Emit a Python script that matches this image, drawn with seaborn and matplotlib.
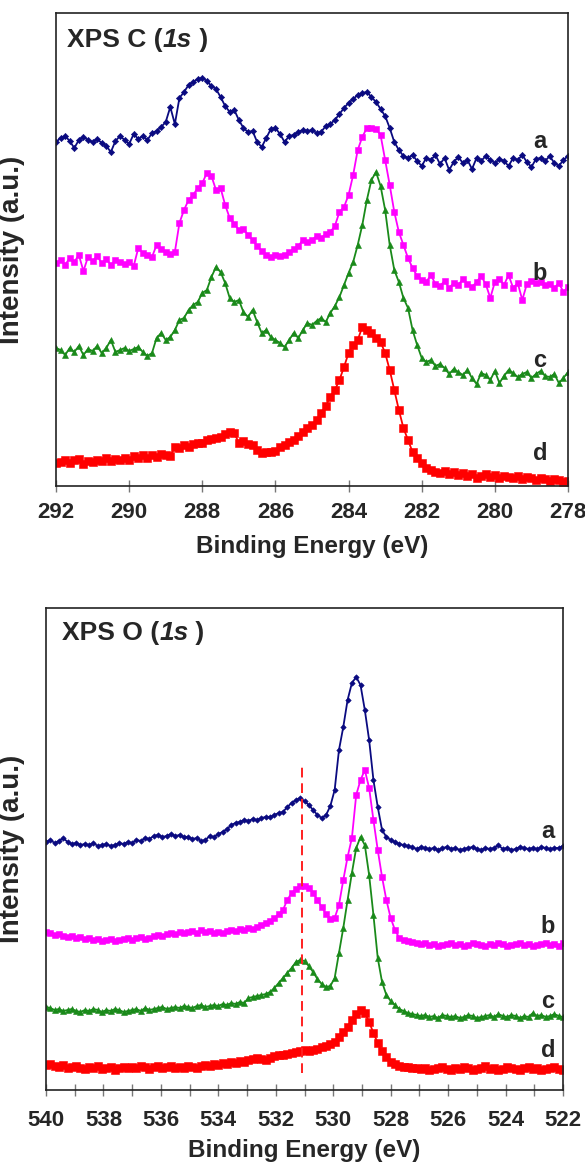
import numpy as np
import matplotlib
matplotlib.use("Agg")
import matplotlib.pyplot as plt
import matplotlib.transforms as mtransforms
from matplotlib.ticker import MultipleLocator
import seaborn as sns

# ---------------- data: C 1s (intensity, arbitrary units) ----------------
energy_c = np.linspace(292.0, 278.0, 113)   # binding energy grid, eV

c_a = [344, 348, 350, 345, 338, 346, 349, 346, 344, 347,
       343, 340, 334, 345, 350, 346, 342, 352, 347, 350,
       346, 353, 355, 359, 364, 379, 362, 388, 394, 401,
       404, 407, 408, 405, 400, 397, 389, 380, 374, 376,
       366, 358, 354, 355, 344, 339, 348, 357, 358, 352,
       344, 350, 351, 354, 356, 355, 356, 353, 354, 360,
       362, 366, 372, 378, 383, 387, 391, 393, 394, 389,
       384, 377, 370, 358, 344, 336, 330, 328, 331, 325,
       320,
       328, 326, 331, 322, 328, 316, 324, 329, 323, 326,
       317, 328, 325, 330, 326, 323, 327, 325, 320, 328,
       326, 331, 324, 319, 327, 328, 325, 330, 323, 320,
       326, 330]

c_b = [223, 226, 221, 228, 224, 231, 215, 229, 225, 230,
       223, 227, 221, 226, 224, 222, 224, 220, 238, 233,
       231, 229, 241, 237, 234, 232, 234, 263, 276, 286,
       291, 298, 303, 313, 310, 296, 298, 281, 268, 262,
       256, 257, 251, 246, 240, 235, 231, 229, 231, 230,
       231, 234, 237, 240, 246, 244, 246, 250, 248, 252,
       254, 260, 274, 279, 291, 311, 336, 349, 358, 358,
       357, 351, 326, 301, 274, 254, 241, 228, 218, 210,
       206,
       204, 211, 202, 200, 205, 198, 203, 201, 207, 202,
       199, 204, 210, 202, 188, 204, 207, 201, 211, 198,
       203, 186, 202, 205, 203, 204, 201, 202, 198, 203,
       194, 199]

c_c = [138, 136, 131, 138, 134, 140, 131, 137, 135, 140,
       133, 138, 146, 134, 136, 138, 135, 137, 139, 134,
       130, 133, 148, 153, 146, 149, 156, 166, 168, 176,
       181, 184, 193, 196, 209, 219, 214, 203, 188, 184,
       186, 174, 169, 176, 164, 153, 156, 149, 146, 143,
       139, 146, 153, 148, 156, 163, 161, 165, 168, 164,
       173, 180, 189, 201, 213, 224, 241, 261, 286, 306,
       314, 300, 276, 241, 216, 204, 188, 178, 156, 141,
       128,
       124, 126, 120, 122, 118, 112, 117, 114, 111, 116,
       108, 102, 113, 111, 106, 115, 103, 110, 116, 113,
       109, 112, 114, 108, 112, 115, 110, 109, 112, 103,
       108, 114]

c_d = [23, 24, 26, 23, 26, 27, 22, 25, 24, 26,
       25, 28, 25, 27, 26, 28, 26, 30, 28, 31,
       28, 31, 29, 32, 31, 30, 39, 38, 41, 39,
       42, 43, 43, 46, 47, 48, 49, 52, 54, 53,
       43, 45, 42, 41, 36, 33, 34, 34, 35, 39,
       41, 44, 46, 50, 54, 58, 61, 66, 73, 80,
       89, 96, 106, 119, 133, 141, 146, 159, 156, 153,
       148, 144, 133, 116, 96, 76, 58, 46, 34, 28,
       23,
       18, 16, 14, 13, 15, 12, 14, 11, 13, 10,
       12, 8, 10, 12, 9, 11, 8, 10, 9, 8,
       10, 7, 9, 8, 6, 8, 7, 5, 7, 6,
       4, 5]

# ---------------- data: O 1s (intensity, arbitrary units) ----------------
energy_o = np.linspace(540.0, 522.0, 121)

o_a = [248, 250, 247, 249, 252, 248, 246, 247, 245, 246,
       245, 247, 244, 245, 246, 244, 245, 247, 246, 248,
       247, 250, 249, 252, 251, 254, 255, 253, 254, 256,
       254, 255, 253, 253, 251, 252, 249, 250, 254, 253,
       256, 258, 261, 265, 267, 268, 270, 269, 271, 270,
       272, 273, 273, 275, 277, 278, 283, 287, 290, 292,
       289, 285, 280, 275, 272, 275, 284, 300, 340, 363,
       390, 407, 413, 405, 380, 350, 310, 283, 260, 253,
       250, 248, 246, 245, 244, 243, 241,
       243, 242, 241, 242, 240, 242, 243, 241, 242, 240,
       241, 242, 243, 241, 240, 242, 241, 242, 245, 241,
       242, 240, 241, 243, 242, 241, 242, 241, 243, 242,
       241, 242, 242, 244]

o_b = [158, 157, 155, 156, 154, 153, 154, 152, 153, 151,
       152, 150, 151, 149, 150, 151, 149, 150, 151, 152,
       150, 152, 153, 151, 152, 154, 155, 154, 156, 157,
       156, 158, 157, 158, 159, 157, 160, 158, 159, 157,
       158, 157, 159, 160, 159, 161, 160, 162, 161, 163,
       165, 167, 169, 172, 176, 180, 190, 197, 201, 204,
       204, 202, 197, 190, 183, 176, 171, 172, 185, 210,
       233, 252, 295, 310, 320, 302, 270, 240, 213, 190,
       172, 160, 152, 150, 149, 148, 147,
       146, 147, 145, 146, 144, 145, 146, 147, 145, 146,
       144, 145, 147, 146, 145, 144, 146, 145, 147, 146,
       144, 145, 146, 147, 145, 146, 144, 145, 146, 147,
       145, 146, 144, 147]

o_c = [83, 82, 80, 81, 79, 80, 81, 79, 78, 80,
       79, 81, 80, 78, 80, 79, 81, 80, 78, 79,
       80, 81, 79, 82, 80, 81, 82, 83, 81, 82,
       83, 82, 84, 83, 82, 84, 85, 83, 84, 85,
       84, 86, 85, 87, 86, 88, 87, 92, 93, 94,
       95, 96, 98, 102, 107, 112, 117, 122, 128, 130,
       129, 124, 118, 111, 106, 103, 104, 112, 137, 162,
       190, 217, 242, 253, 245, 215, 175, 132, 108, 95,
       89, 85, 81, 79, 77, 76, 75,
       74, 75, 73, 74, 72, 75, 74, 73, 74, 72,
       73, 75, 74, 72, 73, 74, 75, 73, 76, 74,
       73, 75, 74, 72, 74, 73, 77, 74, 75, 73,
       74, 76, 74, 73]

o_d = [25, 26, 24, 23, 25, 22, 23, 24, 22, 21,
       23, 22, 24, 21, 22, 23, 20, 22, 23, 22,
       23, 22, 24, 23, 21, 23, 24, 22, 23, 24,
       22, 23, 22, 24, 23, 22, 24, 25, 24, 26,
       25, 27, 26, 28, 27, 29, 28, 30, 31, 32,
       31, 30, 32, 34, 35, 35, 36, 37, 38, 39,
       40, 39, 40, 41, 43, 44, 46, 48, 53, 58,
       63, 70, 76, 80, 77, 68, 57, 47, 39, 33,
       28, 26, 24, 23, 23, 22, 22,
       21, 22, 20, 21, 22, 23, 21, 20, 22, 21,
       23, 22, 20, 21, 22, 24, 21, 22, 20, 21,
       23, 22, 21, 20, 22, 23, 21, 22, 20, 21,
       22, 23, 21, 20]

series_names = ["a", "b", "c", "d"]
c_xticks = [292, 290, 288, 286, 284, 282, 280, 278]
o_xticks = [540, 538, 536, 534, 532, 530, 528, 526, 524, 522]
o_dashed_energy = 531.1
o_dashed_range = (17, 325)

for arr in (c_a, c_b, c_c, c_d):
    assert len(arr) == len(energy_c), len(arr)
for arr in (o_a, o_b, o_c, o_d):
    assert len(arr) == len(energy_o), len(arr)

# ---------------- styling ----------------
sns.set_theme(style="white")
plt.rcParams["font.family"] = ["Liberation Sans", "DejaVu Sans"]
plt.rcParams["font.weight"] = "bold"

colors = ["#0a0a80", "#ff00ff", "#1a8a1a", "#ff0000"]
markers = ["D", "s", "^", "s"]
ms_top = [3.2, 4.6, 4.6, 5.4]
ms_bot = [2.8, 4.4, 4.0, 5.2]

fig = plt.figure(figsize=(5.85, 11.63), dpi=100)
W, H = 585.0, 1163.0
ax1 = fig.add_axes([56 / W, 1 - 486 / H, 512 / W, 473 / H])
ax2 = fig.add_axes([46 / W, 1 - 1090 / H, 517 / W, 482 / H])


def draw(ax, energy, series, ms):
    for vals, col, mk, m in zip(series, colors, markers, ms):
        sns.lineplot(x=energy, y=vals, ax=ax, color=col, marker=mk,
                     markersize=m, markeredgecolor=col, markeredgewidth=0.4,
                     linewidth=1.3, sort=False, errorbar=None)


draw(ax1, energy_c, [c_a, c_b, c_c, c_d], ms_top)
draw(ax2, energy_o, [o_a, o_b, o_c, o_d], ms_bot)

ax2.plot([o_dashed_energy, o_dashed_energy], list(o_dashed_range),
         color="#ff2020", lw=1.4, ls=(0, (5, 3)))

ax1.set_xlim(292, 278)
ax1.set_ylim(0, 473)
ax2.set_xlim(540, 522)
ax2.set_ylim(0, 482)

for ax in (ax1, ax2):
    ax.set_yticks([])
    for sp in ax.spines.values():
        sp.set_color("#222222")
        sp.set_linewidth(1.2)
    ax.set_xlabel("Binding Energy (eV)", fontsize=17.5, fontweight="bold")
    ax.set_ylabel("Intensity (a.u.)", fontsize=20, fontweight="bold")
    for lab in ax.get_xticklabels():
        lab.set_fontweight("bold")

ax1.set_xticks(c_xticks)
ax1.set_xticklabels([str(t) for t in c_xticks], fontsize=16, fontweight="bold")
ax1.tick_params(axis="x", direction="inout", length=9, width=1.0,
                color="#777777", pad=7, bottom=True)
ax1.xaxis.labelpad = 9
ax1.yaxis.set_label_coords((25 - 56) / 512, 0.5)

ax2.set_xticks(o_xticks)
ax2.set_xticklabels([str(t) for t in o_xticks], fontsize=16, fontweight="bold")
ax2.xaxis.set_minor_locator(MultipleLocator(1))
ax2.tick_params(axis="x", which="both", direction="inout", length=9,
                width=1.0, color="#777777", bottom=True)
ax2.tick_params(axis="x", which="major", pad=10)
ax2.xaxis.labelpad = 6
ax2.yaxis.set_label_coords((25 - 46) / 517, 0.5)


def title(ax, x, y, element):
    t1 = ax.text(x, y, f"XPS {element} (", transform=ax.transAxes,
                 fontsize=19, fontweight="bold", va="baseline", ha="left")
    t2 = ax.annotate("1s", xy=(1, 0), xycoords=t1, va="bottom", ha="left",
                     fontsize=19, fontweight="bold", fontstyle="italic")
    ax.annotate(" )", xy=(1, 0), xycoords=t2, va="bottom", ha="left",
                fontsize=19, fontweight="bold")


title(ax1, (67 - 56) / 512, (486 - 47) / 473, "C")
title(ax2, (62 - 46) / 517, (1090 - 640) / 482, "O")

tr1 = mtransforms.blended_transform_factory(ax1.transAxes, ax1.transData)
for name, yb in zip(series_names, [338, 206, 119, 26]):
    ax1.text((540 - 56) / 512, yb, name, transform=tr1, fontsize=17,
             fontweight="bold", ha="center", va="baseline")
tr2 = mtransforms.blended_transform_factory(ax2.transAxes, ax2.transData)
for name, yb in zip(series_names, [252, 157, 82, 33]):
    ax2.text((548 - 46) / 517, yb, name, transform=tr2, fontsize=17,
             fontweight="bold", ha="center", va="baseline")

fig.savefig("out.png", dpi=100)
